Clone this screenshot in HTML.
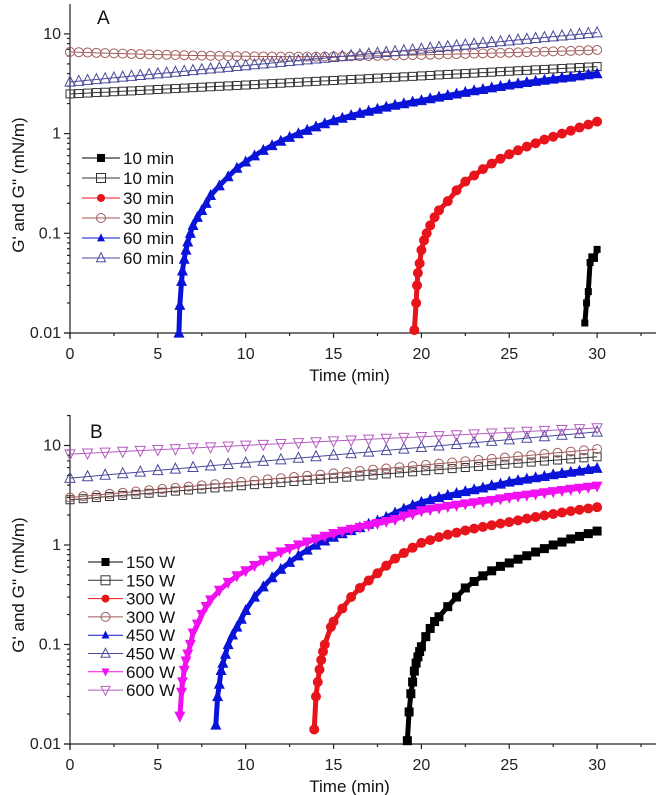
<!DOCTYPE html>
<html><head><meta charset="utf-8">
<style>
html,body{margin:0;padding:0;background:#fff;}
svg{display:block;font-family:"Liberation Sans",Arial,sans-serif;}
</style></head>
<body>
<svg id="fig" width="661" height="795" viewBox="0 0 661 795" xmlns="http://www.w3.org/2000/svg"></svg>
<script>
// ---------- shared categories ----------
const xTickLabels = ["0","5","10","15","20","25","30"];
const yTickLabels = ["0.01","0.1","1","10"];
const tHalf = Array.from({length:61},(_,i)=>i*0.5);
const tOne = Array.from({length:31},(_,i)=>i);
const tThreeQ = Array.from({length:41},(_,i)=>i*0.75);

// ---------- Panel A data ----------
const a10FilledT = [29.3,29.4,29.5,29.6,29.7,29.85,30];
const a10FilledV = [0.0126,0.02,0.026,0.051,0.058,0.056,0.069];
const a10OpenV = [2.50,2.52,2.55,2.58,2.60,2.63,2.66,2.68,2.71,2.74,2.77,2.80,2.83,2.86,2.89,2.92,2.95,2.98,3.01,3.04,3.07,3.10,3.14,3.17,3.20,3.24,3.27,3.31,3.34,3.38,3.41,3.45,3.49,3.52,3.56,3.60,3.64,3.67,3.71,3.75,3.79,3.83,3.88,3.92,3.96,4.00,4.04,4.09,4.13,4.18,4.22,4.27,4.31,4.36,4.40,4.45,4.50,4.55,4.60,4.65,4.70];
const a30FilledT = [19.6,19.7,19.75,19.8,19.9,20,20.15,20.3,20.5,20.75,21,21.5,22,22.5,23,23.5,24,24.5,25,25.5,26,26.5,27,27.5,28,28.5,29,29.5,30];
const a30FilledV = [0.0107,0.02,0.03,0.04,0.05,0.068,0.085,0.1,0.12,0.145,0.17,0.21,0.27,0.33,0.38,0.44,0.5,0.56,0.62,0.68,0.74,0.8,0.87,0.93,1.0,1.07,1.15,1.23,1.32];
const a30OpenV = [6.60,6.55,6.50,6.46,6.42,6.38,6.34,6.30,6.26,6.23,6.20,6.17,6.14,6.11,6.08,6.06,6.04,6.02,6.00,5.98,5.96,5.95,5.94,5.93,5.92,5.92,5.92,5.92,5.92,5.93,5.94,5.95,5.97,5.99,6.01,6.03,6.05,6.08,6.10,6.13,6.16,6.19,6.22,6.25,6.28,6.31,6.34,6.38,6.41,6.45,6.48,6.52,6.56,6.60,6.64,6.68,6.72,6.76,6.80,6.85,6.90];
const a60FilledT = [6.2,6.25,6.35,6.4,6.5,6.6,6.7,6.85,7,7.25,7.5,7.75,8,8.5,9,9.5,10,10.5,11,11.5,12,12.5,13,13.5,14,14.5,15,15.5,16,16.5,17,17.5,18,18.5,19,19.5,20,20.5,21,21.5,22,22.5,23,23.5,24,24.5,25,25.5,26,26.5,27,27.5,28,28.5,29,29.5,30];
const a60FilledV = [0.01,0.019,0.033,0.042,0.055,0.068,0.082,0.1,0.12,0.145,0.17,0.2,0.24,0.3,0.37,0.45,0.52,0.6,0.68,0.76,0.84,0.92,1.0,1.08,1.17,1.26,1.35,1.43,1.52,1.6,1.68,1.76,1.85,1.93,2.0,2.08,2.15,2.24,2.33,2.42,2.5,2.6,2.7,2.78,2.88,2.98,3.08,3.17,3.26,3.35,3.44,3.53,3.62,3.7,3.8,3.9,4.0];
const a60OpenV = [3.30,3.36,3.43,3.49,3.56,3.63,3.70,3.77,3.84,3.91,3.99,4.06,4.14,4.22,4.30,4.39,4.47,4.56,4.64,4.73,4.82,4.92,5.01,5.11,5.21,5.31,5.41,5.51,5.62,5.72,5.83,5.95,6.06,6.18,6.30,6.42,6.54,6.66,6.79,6.92,7.06,7.19,7.33,7.47,7.61,7.76,7.91,8.06,8.21,8.37,8.53,8.70,8.86,9.03,9.21,9.38,9.56,9.75,9.93,10.12,10.30];

// ---------- Panel B data ----------
const b150FilledT = [19.2,19.3,19.4,19.5,19.6,19.7,19.8,19.9,20,20.25,20.5,20.75,21,21.5,22,22.5,23,23.5,24,24.5,25,25.5,26,26.5,27,27.5,28,28.5,29,29.5,30];
const b150FilledV = [0.0108,0.021,0.032,0.042,0.054,0.065,0.075,0.085,0.095,0.12,0.145,0.17,0.19,0.24,0.3,0.37,0.43,0.49,0.55,0.61,0.66,0.72,0.78,0.85,0.92,1.0,1.07,1.15,1.22,1.3,1.38];
const b150OpenV = [2.85,2.92,3.00,3.07,3.15,3.23,3.31,3.39,3.48,3.57,3.66,3.75,3.84,3.94,4.04,4.14,4.24,4.35,4.46,4.57,4.69,4.81,4.93,5.05,5.18,5.31,5.44,5.58,5.72,5.86,6.01,6.16,6.32,6.48,6.64,6.81,6.98,7.15,7.33,7.52,7.70];
const b300FilledT = [13.9,14.0,14.1,14.2,14.3,14.4,14.5,14.85,15,15.5,16,16.5,17,17.5,18,18.5,19,19.5,20,20.5,21,21.5,22,22.5,23,23.5,24,24.5,25,25.5,26,26.5,27,27.5,28,28.5,29,29.5,30];
const b300FilledV = [0.014,0.03,0.042,0.056,0.07,0.085,0.1,0.15,0.17,0.23,0.3,0.37,0.44,0.52,0.62,0.73,0.83,0.94,1.05,1.12,1.2,1.27,1.33,1.4,1.46,1.52,1.58,1.64,1.7,1.77,1.84,1.91,1.98,2.05,2.12,2.19,2.26,2.33,2.4];
const b300OpenV = [3.00,3.09,3.17,3.26,3.35,3.45,3.55,3.65,3.75,3.86,3.97,4.08,4.19,4.31,4.44,4.56,4.69,4.82,4.96,5.10,5.25,5.40,5.55,5.71,5.87,6.04,6.21,6.38,6.57,6.75,6.94,7.14,7.34,7.55,7.77,7.99,8.21,8.45,8.69,8.93,9.20];
const b450FilledT = [8.3,8.4,8.5,8.6,8.7,8.85,9,9.25,9.5,9.75,10,10.5,11,11.5,12,12.5,13,13.5,14,14.5,15,15.5,16,16.5,17,17.5,18,18.5,19,19.5,20,20.5,21,21.5,22,22.5,23,23.5,24,24.5,25,25.5,26,26.5,27,27.5,28,28.5,29,29.5,30];
const b450FilledV = [0.0155,0.03,0.04,0.055,0.065,0.08,0.1,0.125,0.15,0.18,0.22,0.3,0.38,0.47,0.57,0.67,0.78,0.89,1.0,1.1,1.2,1.3,1.4,1.5,1.62,1.75,1.9,2.1,2.3,2.5,2.7,2.85,3.0,3.15,3.3,3.45,3.6,3.75,3.95,4.1,4.3,4.45,4.6,4.75,4.9,5.1,5.25,5.4,5.55,5.75,5.9];
const b450OpenV = [4.70,4.87,5.05,5.23,5.42,5.62,5.82,6.03,6.25,6.48,6.71,6.96,7.21,7.47,7.74,8.02,8.31,8.61,8.93,9.25,9.59,9.93,10.29,10.67,11.05,11.45,11.87,12.30,12.75,13.21,13.70];
const b600FilledT = [6.25,6.35,6.4,6.5,6.6,6.7,6.85,7,7.25,7.5,7.75,8,8.5,9,9.5,10,10.5,11,11.5,12,12.5,13,13.5,14,14.5,15,15.5,16,16.5,17,17.5,18,18.5,19,19.5,20,20.5,21,21.5,22,22.5,23,23.5,24,24.5,25,25.5,26,26.5,27,27.5,28,28.5,29,29.5,30];
const b600FilledV = [0.019,0.033,0.042,0.055,0.068,0.08,0.1,0.13,0.16,0.2,0.24,0.28,0.35,0.42,0.49,0.55,0.62,0.7,0.77,0.85,0.92,1.0,1.07,1.15,1.22,1.3,1.37,1.43,1.5,1.57,1.64,1.72,1.8,1.95,2.05,2.2,2.27,2.35,2.43,2.5,2.58,2.65,2.73,2.8,2.9,3.0,3.08,3.16,3.25,3.34,3.43,3.52,3.62,3.71,3.8,3.9];
const b600OpenV = [8.20,8.37,8.54,8.71,8.89,9.07,9.25,9.44,9.63,9.83,10.03,10.23,10.44,10.65,10.87,11.09,11.31,11.54,11.78,12.01,12.26,12.51,12.76,13.02,13.29,13.56,13.83,14.11,14.40,14.69,15.0];

const NS = "http://www.w3.org/2000/svg";
const svg = document.getElementById('fig');
function mk(tag, attrs, parent){
  const e = document.createElementNS(NS, tag);
  for (const k in attrs) e.setAttribute(k, attrs[k]);
  (parent||svg).appendChild(e);
  return e;
}

function marker(g, type, cx, cy, color, s){
  let e;
  if (type==='sq'||type==='sqo'){
    e = mk('rect',{x:cx-s/2,y:cy-s/2,width:s,height:s},g);
  } else if (type==='ci'||type==='cio'){
    e = mk('circle',{cx:cx,cy:cy,r:s/2},g);
  } else if (type==='tr'||type==='tro'){
    e = mk('polygon',{points:`${cx},${cy-s*0.58} ${cx-s/2},${cy+s*0.42} ${cx+s/2},${cy+s*0.42}`},g);
  } else {
    e = mk('polygon',{points:`${cx},${cy+s*0.58} ${cx-s/2},${cy-s*0.42} ${cx+s/2},${cy-s*0.42}`},g);
  }
  if (type.endsWith('o')){ e.setAttribute('fill','#fff'); e.setAttribute('fill-opacity','0'); e.setAttribute('stroke',color); e.setAttribute('stroke-width','1'); }
  else { e.setAttribute('fill',color); }
  return e;
}

function panel(P){
  const g = mk('g',{});
  
  
  const X = t => P.x0 + t*P.xs;
  const Y = v => P.y0 - (Math.log10(v)+2)*P.ys;
  const axes = mk('g',{stroke:'#222','stroke-width':'1.2',fill:'none'},g);
  
  
  mk('line',{x1:P.x0-6,y1:P.y0,x2:P.xEnd,y2:P.y0},axes);
  mk('line',{x1:P.x0,y1:P.y0+6,x2:P.x0,y2:P.yTop},axes);
  for (let t=0;t<=33;t+=2.5){
    const major = (t%5===0);
    mk('line',{x1:X(t),y1:P.y0,x2:X(t),y2:P.y0+(major?5:3)},axes);
  }
  for (let d=-2; d<=1; d++){
    mk('line',{x1:P.x0-6,y1:Y(Math.pow(10,d)),x2:P.x0,y2:Y(Math.pow(10,d))},axes);
    for (let m=2;m<=9;m++){
      const v = m*Math.pow(10,d);
      if (Y(v) < P.yTop) continue;
      mk('line',{x1:P.x0-3,y1:Y(v),x2:P.x0,y2:Y(v)},axes);
    }
  }
  xTickLabels.forEach((lab,i)=>{
    const tx = mk('text',{x:X(i*5),y:P.y0+26,'text-anchor':'middle','font-size':'16',fill:'#222'},g);
    tx.textContent = lab;
    
    
  });
  yTickLabels.forEach((lab,i)=>{
    const tx = mk('text',{x:P.x0-9,y:Y(Math.pow(10,i-2))+5,'text-anchor':'end','font-size':'16',fill:'#222'},g);
    tx.textContent = lab;
    
    
  });
  const xt = mk('text',{x:X(15)+16,y:P.y0+48,'text-anchor':'middle','font-size':'17',fill:'#111'},g);
  xt.textContent = 'Time (min)';
  
  
  const yt = mk('text',{x:0,y:0,transform:`translate(24,${P.yTitleC}) rotate(-90)`,'text-anchor':'middle','font-size':'17',fill:'#111'},g);
  yt.textContent = "G' and G'' (mN/m)";
  
  
  const pl = mk('text',{x:P.labX,y:P.labY,'font-size':'19',fill:'#111'},g);
  pl.textContent = P.label;
  
  

  P.series.forEach(s=>{
    const sg = mk('g',{},g);
    
    
    const pts = s.t.map((t,i)=>X(t)+','+Y(s.v[i])).join(' ');
    const filled = !s.type.endsWith('o');
    mk('polyline',{points:pts,fill:'none',stroke:s.color,'stroke-width': filled ? '5' : '1','stroke-linejoin':'round'},sg);
    s.t.forEach((t,i)=>{
      const m = marker(sg, s.type, X(t), Y(s.v[i]), s.color, s.size);
      
      
    });
  });
  const lg = mk('g',{},g);
  
  
  P.series.forEach((s,i)=>{
    const yy = P.legY + i*P.legDy;
    const eg = mk('g',{},lg);
    
    
    mk('line',{x1:P.legX1,y1:yy,x2:P.legX2,y2:yy,stroke:s.color,'stroke-width':'1'},eg);
    marker(eg, s.type, (P.legX1+P.legX2)/2, yy, s.color, s.type.endsWith('o')?9:8);
    const tx = mk('text',{x:P.legX2+3,y:yy+6,'font-size':'17',fill:'#111'},eg);
    tx.textContent = s.label;
  });
}

panel({
  name:'panel-a', label:'A', labX:97, labY:24,
  x0:70, xs:17.57, xEnd:656, y0:333, ys:99.7, yTop:4, yTitleC:185,
  legX1:82, legX2:120, legY:158, legDy:20,
  series:[
    {name:'series-10min-gprime', label:'10 min', t:a10FilledT, v:a10FilledV, type:'sq', color:'#000', size:7},
    {name:'series-10min-gdouble', label:'10 min', t:tHalf, v:a10OpenV, type:'sqo', color:'#333', size:8},
    {name:'series-30min-gprime', label:'30 min', t:a30FilledT, v:a30FilledV, type:'ci', color:'#e8141c', size:10},
    {name:'series-30min-gdouble', label:'30 min', t:tHalf, v:a30OpenV, type:'cio', color:'#a05a5a', size:9},
    {name:'series-60min-gprime', label:'60 min', t:a60FilledT, v:a60FilledV, type:'tr', color:'#0a14d8', size:11},
    {name:'series-60min-gdouble', label:'60 min', t:tHalf, v:a60OpenV, type:'tro', color:'#4a4a9a', size:10}
  ]
});

panel({
  name:'panel-b', label:'B', labX:90, labY:438,
  x0:70, xs:17.57, xEnd:656, y0:744, ys:99.5, yTop:415, yTitleC:585,
  legX1:88, legX2:123, legY:562, legDy:18.3,
  series:[
    {name:'series-150w-gprime', label:'150 W', t:b150FilledT, v:b150FilledV, type:'sq', color:'#000', size:9},
    {name:'series-150w-gdouble', label:'150 W', t:tThreeQ, v:b150OpenV, type:'sqo', color:'#333', size:8},
    {name:'series-300w-gprime', label:'300 W', t:b300FilledT, v:b300FilledV, type:'ci', color:'#e8141c', size:10},
    {name:'series-300w-gdouble', label:'300 W', t:tThreeQ, v:b300OpenV, type:'cio', color:'#a05a5a', size:9},
    {name:'series-450w-gprime', label:'450 W', t:b450FilledT, v:b450FilledV, type:'tr', color:'#0a14d8', size:11},
    {name:'series-450w-gdouble', label:'450 W', t:tOne, v:b450OpenV, type:'tro', color:'#4a4a9a', size:10},
    {name:'series-600w-gprime', label:'600 W', t:b600FilledT, v:b600FilledV, type:'tri', color:'#f010f0', size:11},
    {name:'series-600w-gdouble', label:'600 W', t:tOne, v:b600OpenV, type:'trio', color:'#b55cc0', size:10}
  ]
});
</script>
</body></html>
